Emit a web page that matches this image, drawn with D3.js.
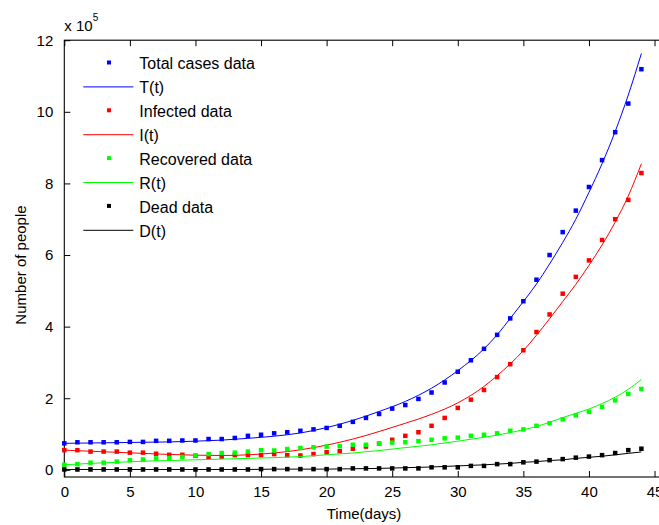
<!DOCTYPE html>
<html>
<head>
<meta charset="utf-8">
<script src="https://cdn.jsdelivr.net/npm/d3@7"></script>
<style>
  html, body { margin: 0; padding: 0; background: #fff; }
  svg { display: block; font-family: "Liberation Sans", Arial, sans-serif; }
</style>
</head>
<body>
<div id="chart"></div>
<script>
// ---- data (values in units of 10^5 people) ----
const days = d3.range(0, 45);

const totalData = [0.74, 0.77, 0.77, 0.77, 0.77, 0.78, 0.78, 0.81, 0.81, 0.82,
  0.82, 0.86, 0.86, 0.89, 0.95, 0.98, 1.02, 1.05, 1.09, 1.13,
  1.17, 1.23, 1.34, 1.45, 1.56, 1.71, 1.81, 1.98, 2.16, 2.44,
  2.74, 3.06, 3.38, 3.77, 4.23, 4.71, 5.31, 6.00, 6.64, 7.24,
  7.90, 8.65, 9.43, 10.23, 11.19];
const infectedData = [0.55, 0.55, 0.51, 0.51, 0.51, 0.48, 0.48, 0.45, 0.42, 0.42,
  0.39, 0.36, 0.37, 0.41, 0.41, 0.41, 0.44, 0.41, 0.40, 0.44,
  0.49, 0.52, 0.59, 0.65, 0.73, 0.84, 0.95, 1.05, 1.23, 1.45,
  1.73, 1.96, 2.23, 2.59, 2.95, 3.34, 3.85, 4.34, 4.92, 5.39,
  5.85, 6.42, 7.00, 7.54, 8.29];
const recoveredData = [0.14, 0.16, 0.20, 0.20, 0.23, 0.27, 0.29, 0.32, 0.33, 0.36,
  0.40, 0.44, 0.47, 0.48, 0.51, 0.55, 0.54, 0.58, 0.61, 0.63,
  0.65, 0.66, 0.70, 0.70, 0.73, 0.76, 0.77, 0.80, 0.84, 0.88,
  0.90, 0.95, 0.98, 1.02, 1.09, 1.13, 1.23, 1.30, 1.41, 1.52,
  1.62, 1.76, 1.94, 2.12, 2.26];
const deadData = [0.01, 0.01, 0.01, 0.01, 0.01, 0.01, 0.01, 0.01, 0.01, 0.01,
  0.01, 0.01, 0.01, 0.01, 0.01, 0.02, 0.02, 0.02, 0.02, 0.02,
  0.02, 0.02, 0.04, 0.04, 0.04, 0.04, 0.04, 0.04, 0.07, 0.07,
  0.07, 0.11, 0.11, 0.16, 0.16, 0.21, 0.23, 0.27, 0.30, 0.34,
  0.37, 0.41, 0.47, 0.55, 0.59];

// model curves, read at these days
const fitDays = [0, 2, 4, 6, 8, 10, 12, 14, 16, 18, 20, 22, 24, 26, 28, 30, 32,
  33, 34, 35, 36, 37, 38, 39, 40, 41, 42, 43, 44];
const fitT = [0.74, 0.75, 0.76, 0.77, 0.78, 0.80, 0.83, 0.88, 0.94, 1.03, 1.18, 1.38,
  1.63, 1.91, 2.28, 2.77, 3.38, 3.77, 4.23, 4.70, 5.19, 5.75, 6.35, 7.00, 7.75,
  8.55, 9.45, 10.47, 11.63];
const fitI = [0.55, 0.52, 0.49, 0.46, 0.43, 0.41, 0.40, 0.42, 0.47, 0.56, 0.69, 0.86,
  1.07, 1.30, 1.55, 1.87, 2.33, 2.63, 2.96, 3.33, 3.76, 4.22, 4.70, 5.18, 5.71,
  6.28, 6.92, 7.65, 8.55];
const fitR = [0.14, 0.18, 0.21, 0.24, 0.26, 0.28, 0.30, 0.32, 0.34, 0.37, 0.42, 0.47,
  0.54, 0.62, 0.70, 0.80, 0.91, 0.97, 1.04, 1.12, 1.21, 1.33, 1.46, 1.58, 1.70,
  1.85, 2.03, 2.25, 2.52];
const fitD = [0.01, 0.01, 0.01, 0.01, 0.01, 0.01, 0.01, 0.01, 0.02, 0.02, 0.02, 0.03,
  0.04, 0.06, 0.08, 0.11, 0.14, 0.16, 0.18, 0.21, 0.23, 0.26, 0.28, 0.32, 0.35,
  0.38, 0.42, 0.46, 0.50];

const xTicks = [0, 5, 10, 15, 20, 25, 30, 35, 40, 45];
const yTicks = [0, 2, 4, 6, 8, 10, 12];

const series = [
  { label: 'Total cases data', type: 'dots', xs: days, ys: totalData, color: '#0000ff' },
  { label: 'T(t)', type: 'line', xs: fitDays, ys: fitT, color: '#0000ff' },
  { label: 'Infected data', type: 'dots', xs: days, ys: infectedData, color: '#ff0000' },
  { label: 'I(t)', type: 'line', xs: fitDays, ys: fitI, color: '#ff0000' },
  { label: 'Recovered data', type: 'dots', xs: days, ys: recoveredData, color: '#00ff00' },
  { label: 'R(t)', type: 'line', xs: fitDays, ys: fitR, color: '#00ff00' },
  { label: 'Dead data', type: 'dots', xs: days, ys: deadData, color: '#000000' },
  { label: 'D(t)', type: 'line', xs: fitDays, ys: fitD, color: '#000000' }
];

// ---- layout ----
const W = 659, H = 525;
const axL = 64.3, axT = 40.2, axB = 477;

const svg = d3.select('#chart').append('svg')
  .attr('width', W).attr('height', H);

const x = d3.scaleLinear().domain([0, 46]).range([axL, axL + 46 * 13.116]);
const y = d3.scaleLinear().domain([-0.2, 12]).range([axB, axT]);
const axR = x(46);

// frame + inward ticks
const axisColor = '#000';
svg.append('g')
  .attr('transform', `translate(0,${axB})`)
  .call(d3.axisBottom(x).tickValues(xTicks).tickSize(-6).tickPadding(9).tickFormat(d3.format('d')))
  .call(g => g.select('.domain').remove())
  .call(g => g.selectAll('line').attr('stroke', axisColor))
  .call(g => g.selectAll('text').attr('fill', '#000').style('font-size', '15px')
    .style('font-family', '"Liberation Sans", Arial, sans-serif'));

svg.append('g')
  .attr('transform', `translate(0,${axT})`)
  .call(d3.axisTop(x).tickValues(xTicks).tickSize(-6).tickFormat(''))
  .call(g => g.select('.domain').remove())
  .call(g => g.selectAll('line').attr('stroke', axisColor));

svg.append('g')
  .attr('transform', `translate(${axL},0)`)
  .call(d3.axisLeft(y).tickValues(yTicks).tickSize(-6).tickPadding(11).tickFormat(d3.format('d')))
  .call(g => g.select('.domain').remove())
  .call(g => g.selectAll('line').attr('stroke', axisColor))
  .call(g => g.selectAll('text').attr('fill', '#000').style('font-size', '15px')
    .style('font-family', '"Liberation Sans", Arial, sans-serif'));

svg.append('rect')
  .attr('x', axL).attr('y', axT)
  .attr('width', axR - axL).attr('height', axB - axT)
  .attr('fill', 'none').attr('stroke', axisColor).attr('stroke-width', 1.1);

// exponent label
const expo = svg.append('text').attr('x', axL).attr('y', 31)
  .style('font-size', '15px').attr('fill', '#000');
expo.append('tspan').text('x 10');
expo.append('tspan').attr('dy', -10).style('font-size', '10px').text('5');

// axis titles
svg.append('text')
  .attr('x', 364).attr('y', 519)
  .attr('text-anchor', 'middle')
  .style('font-size', '15px').attr('fill', '#000')
  .text('Time(days)');

svg.append('text')
  .attr('transform', 'translate(26,265) rotate(-90)')
  .attr('text-anchor', 'middle')
  .style('font-size', '15px').attr('fill', '#000')
  .text('Number of people');

// ---- marks ----
const plot = svg.append('g');
const line = d3.line().curve(d3.curveMonotoneX)
  .x(d => x(d[0])).y(d => y(d[1]));
const ms = 4.5;

series.forEach(s => {
  const pts = s.xs.map((d, i) => [d, s.ys[i]]);
  if (s.type === 'line') {
    plot.append('path')
      .attr('d', line(pts))
      .attr('fill', 'none')
      .attr('stroke', s.color)
      .attr('stroke-width', 1);
  } else {
    plot.append('g').selectAll('rect')
      .data(pts)
      .join('rect')
      .attr('x', d => x(d[0]) - ms / 2)
      .attr('y', d => y(d[1]) - ms / 2)
      .attr('width', ms).attr('height', ms)
      .attr('fill', s.color);
  }
});

// ---- legend ----
const legend = svg.append('g');
series.forEach((s, i) => {
  const cy = 63.5 + i * 23.9;
  if (s.type === 'line') {
    legend.append('line')
      .attr('x1', 83.3).attr('x2', 133.3)
      .attr('y1', cy - 0.5).attr('y2', cy - 0.5)
      .attr('stroke', s.color).attr('stroke-width', 1);
  } else {
    legend.append('rect')
      .attr('x', 109 - 2).attr('y', cy - 3)
      .attr('width', 4).attr('height', 4)
      .attr('fill', s.color);
  }
  legend.append('text')
    .attr('x', 139.3).attr('y', cy + 5.8)
    .style('font-size', '16px').attr('fill', '#000')
    .text(s.label);
});
</script>
</body>
</html>
